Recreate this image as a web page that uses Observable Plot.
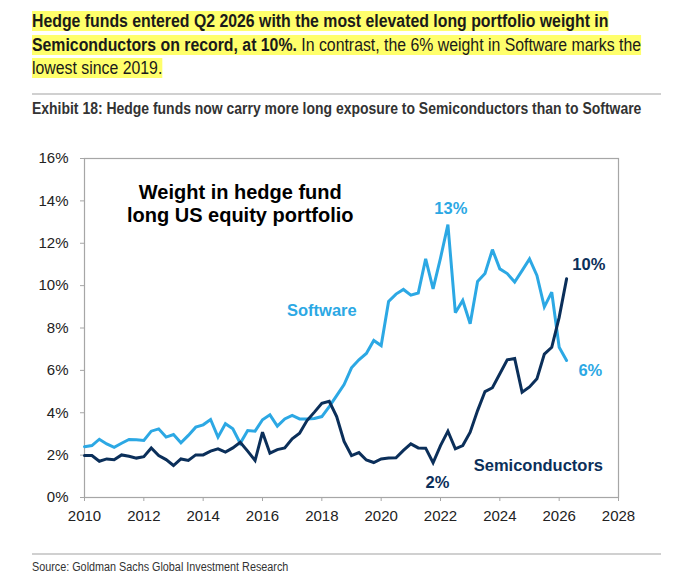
<!DOCTYPE html>
<html>
<head>
<meta charset="utf-8">
<script src="https://cdn.jsdelivr.net/npm/d3@7"></script>
<script src="https://cdn.jsdelivr.net/npm/@observablehq/plot@0.6"></script>
<style>
  html, body { margin: 0; padding: 0; background: #fff; }
  body { width: 683px; height: 581px; overflow: hidden; position: relative; font-family: "Liberation Sans", Arial, sans-serif; }
  #head { position: absolute; left: 32px; top: 10px; font-size: 17.5px; line-height: 23.5px; color: #1a1a1a; white-space: nowrap; transform: scaleX(0.905); transform-origin: 0 0; }
  #head span { background: #ffff6b; }
  #head b { font-weight: bold; }
  .rule { position: absolute; left: 32px; width: 629px; height: 2px; background: #d0d0d0; }
  #exhibit { position: absolute; left: 32px; top: 100px; font-size: 16px; font-weight: bold; color: #333; white-space: nowrap; transform: scaleX(0.872); transform-origin: 0 0; }
  #source { position: absolute; left: 32px; top: 560px; font-size: 12px; color: #333; white-space: nowrap; transform: scaleX(0.9); transform-origin: 0 0; }
  #chart { position: absolute; left: 0; top: 130px; }
</style>
</head>
<body>
<div id="head"><span><b>Hedge funds entered Q2 2026 with the most elevated long portfolio weight in</b></span><br><span><b>Semiconductors on record, at 10%.</b> In contrast, the 6% weight in Software marks the</span><br><span>lowest since 2019.</span></div>
<div class="rule" style="top:93px"></div>
<div id="exhibit">Exhibit 18: Hedge funds now carry more long exposure to Semiconductors than to Software</div>
<div id="chart"></div>
<div class="rule" style="top:553px"></div>
<div id="source">Source: Goldman Sachs Global Investment Research</div>
<script>
// Quarterly observations, first quarter = 2010 Q1
const firstYear = 2010;

const software = [
  2.40, 2.45, 2.75, 2.53, 2.37, 2.56, 2.74, 2.72,
  2.69, 3.13, 3.24, 2.85, 2.97, 2.58, 2.93, 3.32,
  3.43, 3.68, 2.85, 3.48, 3.24, 2.56, 3.16, 3.13,
  3.67, 3.90, 3.37, 3.71, 3.87, 3.71, 3.71, 3.73,
  3.82, 4.29, 4.81, 5.33, 6.12, 6.50, 6.80, 7.41,
  7.17, 9.25, 9.60, 9.82, 9.55, 9.65, 11.26, 9.85,
  11.30, 12.88, 8.72, 9.30, 8.20, 10.20, 10.57, 11.70,
  10.79, 10.57, 10.17, 10.71, 11.26, 10.48, 9.00, 9.69,
  7.09, 6.47
];

const semiconductors = [
  1.98, 1.98, 1.71, 1.82, 1.78, 2.01, 1.95, 1.86,
  1.93, 2.34, 1.98, 1.79, 1.51, 1.82, 1.75, 2.01,
  2.01, 2.19, 2.30, 2.14, 2.34, 2.61, 2.19, 1.75,
  3.08, 2.09, 2.26, 2.34, 2.77, 3.03, 3.63, 4.03,
  4.45, 4.54, 3.82, 2.65, 1.98, 2.12, 1.77, 1.65,
  1.82, 1.86, 1.87, 2.22, 2.53, 2.34, 2.33, 1.64,
  2.45, 3.13, 2.30, 2.45, 3.08, 4.10, 5.00, 5.18,
  5.84, 6.50, 6.56, 4.97, 5.22, 5.60, 6.77, 7.09,
  8.50, 10.32
];

const xTicks = [2010, 2012, 2014, 2016, 2018, 2020, 2022, 2024, 2026, 2028];
const yTicks = [0, 2, 4, 6, 8, 10, 12, 14, 16];

const seriesNames = ["Software", "Semiconductors"];
const seriesColors = ["#2ca8e4", "#0b2f5a"];

const annotations = [
  {text: "Weight in hedge fund\nlong US equity portfolio", x: 2015.25, y: 13.9, series: "title"},
  {text: "Software", x: 2018.0, y: 8.82, series: "Software"},
  {text: "13%", x: 2022.35, y: 13.64, series: "Software"},
  {text: "6%", x: 2027.05, y: 6.0, series: "Software"},
  {text: "10%", x: 2027.0, y: 11.0, series: "Semiconductors"},
  {text: "2%", x: 2021.9, y: 0.71, series: "Semiconductors"},
  {text: "Semiconductors", x: 2025.3, y: 1.51, series: "Semiconductors"}
];

const rows = [];
software.forEach((v, i) => rows.push({series: "Software", date: firstYear + i / 4, value: v}));
semiconductors.forEach((v, i) => rows.push({series: "Semiconductors", date: firstYear + i / 4, value: v}));

const colorOf = s => s === "title" ? "#000" : seriesColors[seriesNames.indexOf(s)];

const chart = Plot.plot({
  width: 683,
  height: 410,
  marginTop: 28,
  marginBottom: 43,
  marginLeft: 84,
  marginRight: 65,
  style: {fontFamily: "'Liberation Sans', Arial, sans-serif", fontSize: "15px", background: "#fff", color: "#222"},
  x: {domain: [2010, 2028], label: null},
  y: {domain: [0, 16], label: null},
  marks: [
    Plot.axisX({ticks: xTicks, tickFormat: d => String(d), tickSize: 4, tickPadding: 9, stroke: "#a6a6a6", fill: "#222", label: null, fontSize: 15}),
    Plot.axisY({ticks: yTicks, tickFormat: d => d + "%", tickSize: 4, tickPadding: 12, stroke: "#a6a6a6", fill: "#222", label: null, fontSize: 15}),
    Plot.frame({stroke: "#a6a6a6", strokeWidth: 1.2}),
    Plot.line(rows.filter(d => d.series === "Software"), {x: "date", y: "value", stroke: seriesColors[0], strokeWidth: 3, strokeLinejoin: "miter", strokeMiterlimit: 3}),
    Plot.line(rows.filter(d => d.series === "Semiconductors"), {x: "date", y: "value", stroke: seriesColors[1], strokeWidth: 3, strokeLinejoin: "miter", strokeMiterlimit: 3}),
    Plot.text(annotations.filter(d => d.series === "title"), {x: "x", y: "y", text: "text", fill: "#000", fontWeight: "bold", fontSize: 20, lineHeight: 1.15, textAnchor: "middle"}),
    Plot.text(annotations.filter(d => d.series !== "title"), {x: "x", y: "y", text: "text", fill: d => colorOf(d.series), fontWeight: "bold", fontSize: 16.5, textAnchor: "middle"})
  ]
});
document.getElementById("chart").appendChild(chart);
</script>
</body>
</html>
